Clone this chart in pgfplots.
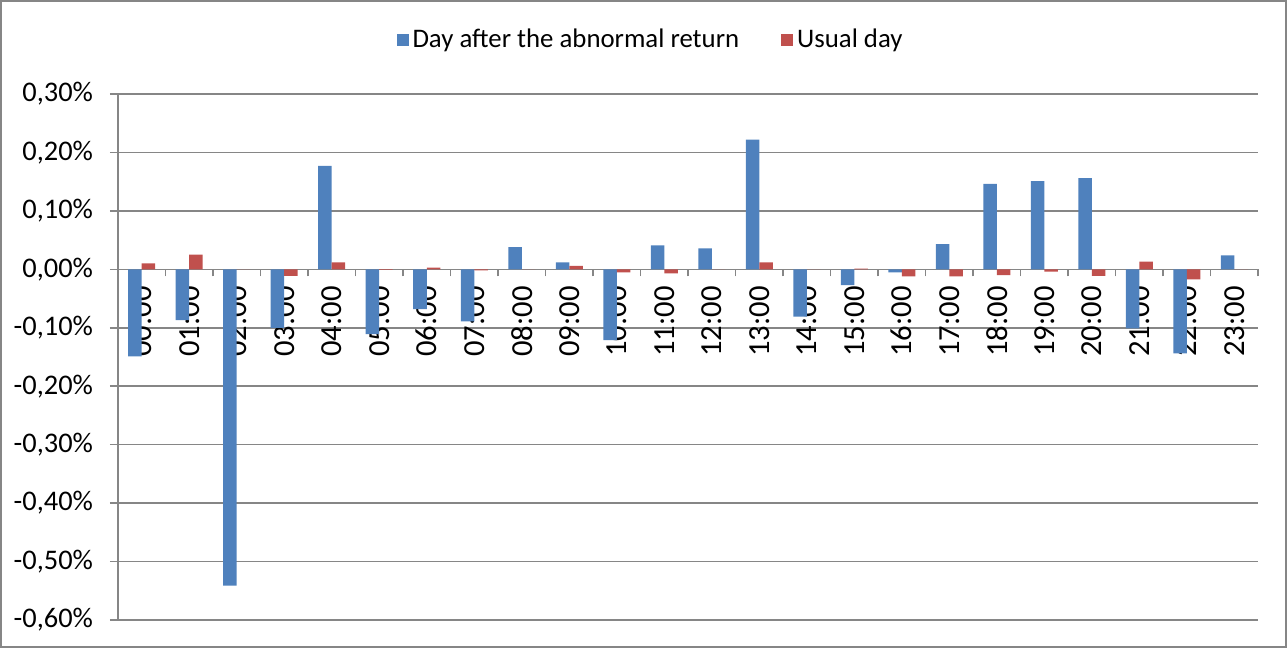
\documentclass[border=0pt]{standalone}
\usepackage{pgfplots}
\pgfplotsset{compat=1.18}
\usepackage{fontspec}
\setmainfont{Carlito}
\definecolor{xblue}{HTML}{4F81BD}
\definecolor{xred}{HTML}{C0504D}
\definecolor{xgrid}{HTML}{868686}
\begin{document}
\begin{tikzpicture}
\useasboundingbox (0,0) rectangle (643.5pt,324pt);
\begin{axis}[
  at={(59pt,14pt)}, anchor=south west,
  scale only axis, width=570pt, height=263pt,
  xmin=-0.5, xmax=23.5, ymin=-0.6, ymax=0.3,
  axis x line*=middle, axis y line*=left,
  x axis line style={-, draw=xgrid, line width=0.8pt},
  y axis line style={-, draw=xgrid, line width=0.8pt},
  ybar=0pt, bar width=6.75pt,
  xtick={0,...,23},
  xticklabels={00:00,01:00,02:00,03:00,04:00,05:00,06:00,07:00,08:00,09:00,10:00,11:00,12:00,13:00,14:00,15:00,16:00,17:00,18:00,19:00,20:00,21:00,22:00,23:00},
  xticklabel style={rotate=90, anchor=east, font=\fontsize{15.3}{17}\selectfont, inner xsep=4.5pt, inner ysep=0pt, outer sep=0pt},
  major x tick style={draw=none},
  minor xtick={-0.5,0.5,...,23.5},
  minor x tick style={draw=xgrid, line width=0.8pt},
  minor tick length=3.5pt,
  tick align=outside,
  ytick={-0.6,-0.5,-0.4,-0.3,-0.2,-0.1,0,0.1,0.2,0.3},
  yticklabels={{-0,60\%},{-0,50\%},{-0,40\%},{-0,30\%},{-0,20\%},{-0,10\%},{0,00\%},{0,10\%},{0,20\%},{0,30\%}},
  yticklabel style={font=\fontsize{14.2}{16}\selectfont, xshift=-5pt},
  major y tick style={draw=xgrid, line width=0.8pt},
  major tick length=4pt,
  ymajorgrids, grid style={draw=xgrid, line width=0.8pt},
  legend style={at={(0.468,1.1027)}, anchor=center, draw=none, fill=none,
    font=\fontsize{13.4}{15}\selectfont, legend columns=2,
    /tikz/every even column/.append style={column sep=19pt}},
  legend image code/.code={\fill[#1] (0pt,-3pt) rectangle (6pt,3pt);},
]
\addplot[fill=xblue, draw=none] coordinates {
(0,-0.149) (1,-0.087) (2,-0.541) (3,-0.100) (4,0.177) (5,-0.111)
(6,-0.068) (7,-0.089) (8,0.038) (9,0.012) (10,-0.121) (11,0.041)
(12,0.036) (13,0.222) (14,-0.081) (15,-0.027) (16,-0.005) (17,0.043)
(18,0.146) (19,0.151) (20,0.156) (21,-0.101) (22,-0.144) (23,0.024)};
\addlegendentry{Day after the abnormal return}
\addplot[fill=xred, draw=none] coordinates {
(0,0.010) (1,0.025) (2,0.000) (3,-0.011) (4,0.012) (5,-0.001)
(6,0.003) (7,-0.002) (8,0.000) (9,0.006) (10,-0.005) (11,-0.007)
(12,0.000) (13,0.012) (14,0.000) (15,0.001) (16,-0.012) (17,-0.012)
(18,-0.010) (19,-0.004) (20,-0.011) (21,0.013) (22,-0.017) (23,0.000)};
\addlegendentry{Usual day}
\end{axis}
\draw[xgrid, line width=1pt] (0.5pt,0.5pt) rectangle (643pt,323.5pt);
\end{tikzpicture}
\end{document}
